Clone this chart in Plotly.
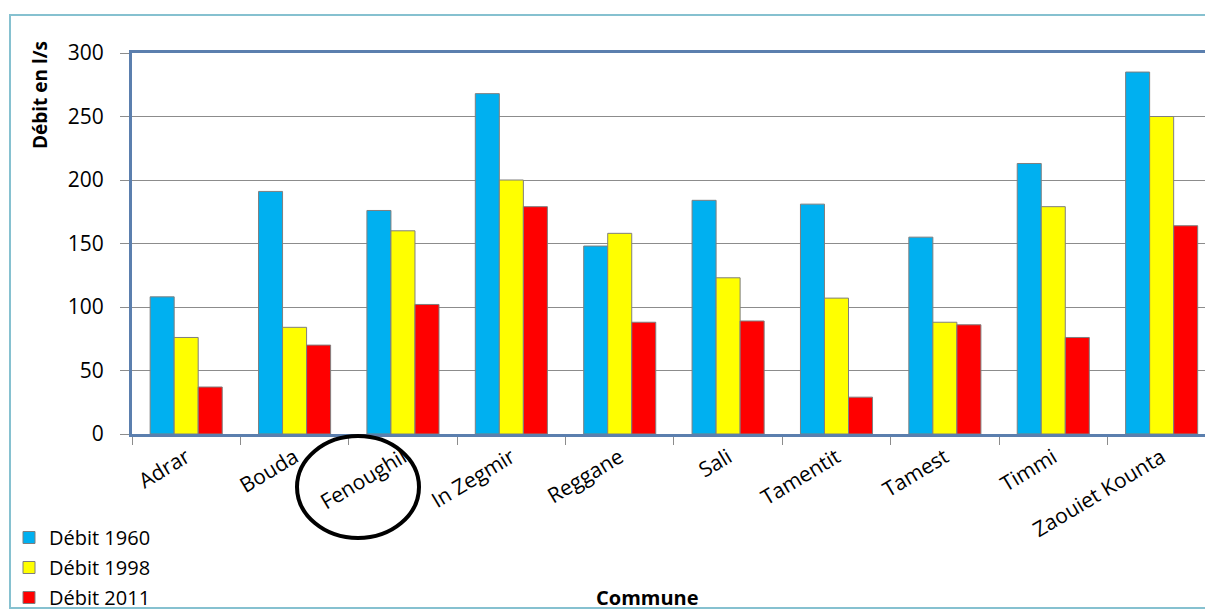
import plotly.graph_objects as go

communes = ["Adrar", "Bouda", "Fenoughil", "In Zegmir", "Reggane", "Sali",
            "Tamentit", "Tamest", "Timmi", "Zaouiet Kounta"]
debit_1960 = [108, 191, 176, 268, 148, 184, 181, 155, 213, 285]
debit_1998 = [76, 84, 160, 200, 158, 123, 107, 88, 179, 250]
debit_2011 = [37, 70, 102, 179, 88, 89, 29, 86, 76, 164]
series_names = ["Débit 1960", "Débit 1998", "Débit 2011"]
colors = ["#00B0F0", "#FFFF00", "#FF0000"]

W, H = 1205, 612
L, R, T, B = 132, 0, 53, 178
pw = W - L - R
ph = H - T - B

def px(x):
    return (x - L) / pw

def py(y):
    return (H - B - y) / ph

FONT = "Open Sans"

fig = go.Figure()
for name, vals, c in zip(series_names, [debit_1960, debit_1998, debit_2011], colors):
    fig.add_trace(go.Bar(
        x=communes, y=vals, name=name, legendgroup=name,
        marker=dict(color=c, line=dict(color="#7f7f7f", width=1)),
    ))

fig.update_layout(
    width=W, height=H,
    margin=dict(l=L, r=R, t=T, b=B, pad=0, autoexpand=False),
    paper_bgcolor="white", plot_bgcolor="white",
    barmode="group", bargap=0.335, bargroupgap=0,
    font=dict(family=FONT, color="black"),
    showlegend=True,
    legend=dict(x=px(9), y=py(518), xanchor="left", yanchor="top",
                font=dict(size=20, family=FONT), tracegroupgap=1,
                bgcolor="rgba(0,0,0,0)", itemwidth=30),
    xaxis=dict(
        range=[-0.5, 9.4], showgrid=False,
        showline=True, linecolor="#5b7fae", linewidth=3, mirror=True,
        ticks="outside", tickson="boundaries", ticklen=8, tickcolor="#8c8c8c",
        tickangle=-31, tickfont=dict(size=21, family=FONT),
    ),
    yaxis=dict(
        range=[0, 300], dtick=50, showgrid=True, gridcolor="#8c8c8c", gridwidth=1,
        showline=True, linecolor="#5b7fae", linewidth=3, mirror=False,
        ticks="outside", ticklen=9, tickcolor="#8c8c8c",
        ticklabelstandoff=12, tickfont=dict(size=21, family=FONT),
        zeroline=False,
    ),
    shapes=[
        dict(type="rect", xref="paper", yref="paper",
             x0=px(10), x1=px(1220), y0=py(15), y1=py(608),
             line=dict(color="#86c1d0", width=2), layer="below"),
        dict(type="circle", xref="paper", yref="paper",
             x0=px(297), x1=px(419), y0=py(436), y1=py(538),
             line=dict(color="black", width=4)),
    ],
    annotations=[
        dict(text="<b>Débit en l/s</b>", xref="paper", yref="paper",
             x=px(40), y=py(95), textangle=-90, showarrow=False,
             font=dict(size=19, family=FONT), xanchor="center", yanchor="middle"),
        dict(text="<b>Commune</b>", xref="paper", yref="paper",
             x=px(647), y=py(597), showarrow=False,
             font=dict(size=20, family=FONT), xanchor="center", yanchor="middle"),
    ],
)

fig.write_html("out.html", config={"displayModeBar": False},
               post_script="document.body.style.margin='0';")
